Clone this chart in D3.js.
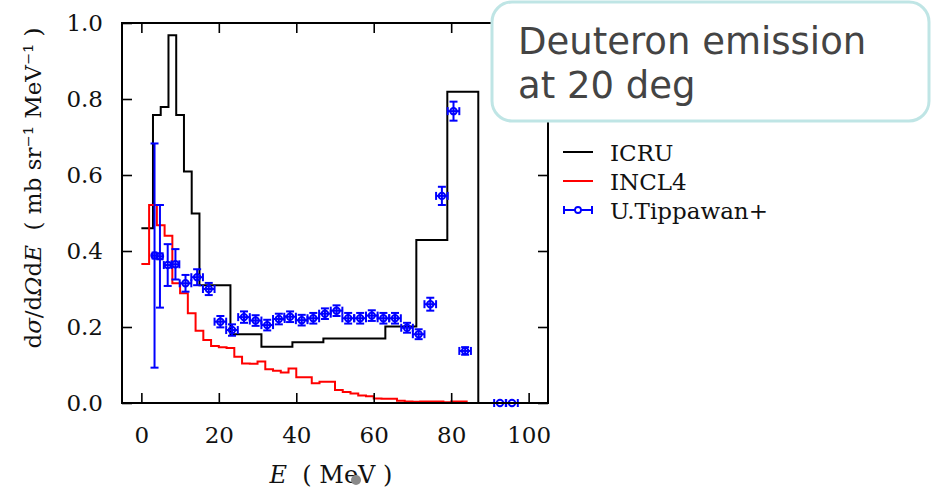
<!DOCTYPE html>
<html>
<head>
<meta charset="utf-8">
<script src="https://cdn.jsdelivr.net/npm/d3@7"></script>
<style>
  html, body { margin: 0; padding: 0; background: #fff; }
  svg { display: block; }
  text { white-space: pre; }
</style>
</head>
<body>
<svg width="932" height="493"></svg>
<script>
// ICRU histogram: bin edges (MeV) and values
var icruEdges = [0, 3, 5, 7, 9, 11, 13, 15, 23, 31, 39, 47, 63, 71, 79, 87];
var icruValues = [0.46, 0.758, 0.779, 0.968, 0.758, 0.609, 0.499, 0.31, 0.181, 0.148, 0.160, 0.170, 0.201, 0.429, 0.819];

// INCL4 histogram, 2 MeV bins from 0 to 84
var inclEdges = d3.range(0, 86, 2);
var inclValues = [0.366, 0.521, 0.468, 0.44, 0.315, 0.289, 0.236, 0.19, 0.166, 0.150,
                  0.147, 0.145, 0.122, 0.104, 0.103, 0.109, 0.089, 0.085, 0.08, 0.091,
                  0.068, 0.068, 0.052, 0.056, 0.056, 0.034, 0.029, 0.025, 0.02, 0.018,
                  0.012, 0.011, 0.011, 0.006, 0.004, 0.003, 0.004, 0.004, 0.004, 0.002,
                  0.004, 0.004];

// U.Tippawan+ measurement
var tipE = [3.4, 4.8, 6.8, 8.8, 11.4, 14.4, 17.4, 20.4, 23.4, 26.5, 29.5, 32.5, 35.5, 38.4,
            41.4, 44.4, 47.4, 50.4, 53.4, 56.5, 59.5, 62.5, 65.5, 68.6, 71.6, 74.6, 77.6,
            80.6, 83.6, 92.6, 95.7];
var tipY = [0.388, 0.386, 0.363, 0.365, 0.315, 0.331, 0.300, 0.214, 0.192, 0.226, 0.217,
            0.205, 0.221, 0.227, 0.218, 0.223, 0.235, 0.243, 0.223, 0.223, 0.230, 0.223,
            0.223, 0.198, 0.181, 0.260, 0.545, 0.768, 0.137, 0.0, 0.0];
var tipYErr = [0.295, 0.135, 0.055, 0.04, 0.022, 0.021, 0.016, 0.015, 0.015, 0.015, 0.014,
               0.014, 0.014, 0.014, 0.014, 0.014, 0.014, 0.014, 0.014, 0.014, 0.014, 0.014,
               0.014, 0.013, 0.013, 0.017, 0.024, 0.025, 0.01, 0, 0];
var tipXErr = [0.5, 0.7, 1.0, 1.0, 1.5, 1.5, 1.5, 1.5, 1.5, 1.5, 1.5, 1.5, 1.5, 1.5, 1.5,
               1.5, 1.5, 1.5, 1.5, 1.5, 1.5, 1.5, 1.5, 1.5, 1.5, 1.5, 1.5, 1.5, 1.5, 1.5, 1.5];

var xTicks = [0, 20, 40, 60, 80, 100];
var yTicks = [0.0, 0.2, 0.4, 0.6, 0.8, 1.0];

var serif = "'DejaVu Serif', serif";
var box = {left: 122, right: 548, top: 23, bottom: 403};

var svg = d3.select("svg");

var xScale = d3.scaleLinear().domain([-5, 105]).range([box.left, box.right]);
var yScale = d3.scaleLinear().domain([0, 1]).range([box.bottom, box.top]);

// histogram -> step path points
function stepPoints(edges, values) {
   var pts = values.map(function(v, i) { return [edges[i], v]; });
   var last = edges[values.length];
   pts.push([last, values[values.length - 1]]);
   pts.push([last, 0]);
   return pts;
}

var stepLine = d3.line()
   .x(function(d) { return xScale(d[0]); })
   .y(function(d) { return yScale(d[1]); })
   .curve(d3.curveStepAfter);

svg.append("path")
   .attr("d", stepLine(stepPoints(icruEdges, icruValues)))
   .attr("fill", "none")
   .attr("stroke", "#000")
   .attr("stroke-width", 2);

svg.append("path")
   .attr("d", stepLine(stepPoints(inclEdges, inclValues)))
   .attr("fill", "none")
   .attr("stroke", "#ff0000")
   .attr("stroke-width", 2);

// error bars
var tip = tipE.map(function(e, i) {
   return {x: e, y: tipY[i], xe: tipXErr[i], ye: tipYErr[i]};
});
var blue = "#0000ff";
var cap = 4;
var eg = svg.append("g").attr("stroke", blue).attr("stroke-width", 2).attr("fill", "none");

tip.forEach(function(d) {
   var cx = xScale(d.x), cy = yScale(d.y);
   var x0 = xScale(d.x - d.xe), x1 = xScale(d.x + d.xe);
   eg.append("line").attr("x1", x0).attr("x2", x1).attr("y1", cy).attr("y2", cy);
   eg.append("line").attr("x1", x0).attr("x2", x0).attr("y1", cy - cap).attr("y2", cy + cap);
   eg.append("line").attr("x1", x1).attr("x2", x1).attr("y1", cy - cap).attr("y2", cy + cap);
   if (d.ye > 0) {
      var y0 = yScale(d.y - d.ye), y1 = yScale(d.y + d.ye);
      eg.append("line").attr("x1", cx).attr("x2", cx).attr("y1", y0).attr("y2", y1);
      eg.append("line").attr("x1", cx - cap).attr("x2", cx + cap).attr("y1", y0).attr("y2", y0);
      eg.append("line").attr("x1", cx - cap).attr("x2", cx + cap).attr("y1", y1).attr("y2", y1);
   }
   eg.append("circle").attr("cx", cx).attr("cy", cy).attr("r", 3.2);
});

// axes, ticks pointing inward
var tickLen = 10;
function styleAxis(g) {
   g.select(".domain").remove();
   g.selectAll(".tick line").attr("stroke", "#000").attr("stroke-width", 1.6);
   g.selectAll("text").attr("font-family", serif).attr("font-size", 23).attr("fill", "#111");
}

svg.append("g")
   .attr("transform", "translate(0," + box.bottom + ")")
   .call(d3.axisBottom(xScale).tickValues(xTicks).tickFormat(d3.format("d"))
      .tickSizeInner(-tickLen).tickSizeOuter(0).tickPadding(24))
   .call(styleAxis);

svg.append("g")
   .attr("transform", "translate(0," + box.top + ")")
   .call(d3.axisTop(xScale).tickValues(xTicks).tickFormat("")
      .tickSizeInner(-tickLen).tickSizeOuter(0))
   .call(styleAxis);

svg.append("g")
   .attr("transform", "translate(" + box.left + ",0)")
   .call(d3.axisLeft(yScale).tickValues(yTicks).tickFormat(d3.format(".1f"))
      .tickSizeInner(-tickLen).tickSizeOuter(0).tickPadding(19))
   .call(styleAxis);

svg.append("g")
   .attr("transform", "translate(" + box.right + ",0)")
   .call(d3.axisRight(yScale).tickValues(yTicks).tickFormat("")
      .tickSizeInner(-tickLen).tickSizeOuter(0))
   .call(styleAxis);

// frame
svg.append("rect")
   .attr("x", box.left).attr("y", box.top)
   .attr("width", box.right - box.left).attr("height", box.bottom - box.top)
   .attr("fill", "none").attr("stroke", "#000").attr("stroke-width", 2);

// axis labels
var xl = svg.append("text")
   .attr("x", 331).attr("y", 483)
   .attr("text-anchor", "middle")
   .attr("font-family", serif).attr("font-size", 24).attr("fill", "#111");
xl.append("tspan").attr("font-style", "italic").text("E");
xl.append("tspan").text("  ( MeV )");

var yl = svg.append("text")
   .attr("transform", "translate(41,188) rotate(-90)")
   .attr("text-anchor", "middle")
   .attr("font-family", serif).attr("font-size", 23).attr("fill", "#111");
yl.append("tspan").text("d");
yl.append("tspan").attr("font-style", "italic").text("σ");
yl.append("tspan").text("/d");
yl.append("tspan").attr("font-style", "italic").text("Ω");
yl.append("tspan").text("d");
yl.append("tspan").attr("font-style", "italic").text("E");
yl.append("tspan").text("  ( mb sr⁻¹ MeV⁻¹ )");

// legend
var legendNames = ["ICRU", "INCL4", "U.Tippawan+"];
var legendColors = ["#000", "#ff0000", blue];
var lg = svg.append("g");
legendNames.forEach(function(name, i) {
   var ly = 152 + i * 29;
   lg.append("line").attr("x1", 563).attr("x2", 593).attr("y1", ly).attr("y2", ly)
      .attr("stroke", legendColors[i]).attr("stroke-width", 2);
   if (i === 2) {
      lg.append("line").attr("x1", 564).attr("x2", 564).attr("y1", ly - 4).attr("y2", ly + 4)
         .attr("stroke", blue).attr("stroke-width", 2);
      lg.append("line").attr("x1", 592).attr("x2", 592).attr("y1", ly - 4).attr("y2", ly + 4)
         .attr("stroke", blue).attr("stroke-width", 2);
      lg.append("circle").attr("cx", 578).attr("cy", ly).attr("r", 3)
         .attr("fill", "#fff").attr("stroke", blue).attr("stroke-width", 1.8);
   }
   lg.append("text").attr("x", 610).attr("y", ly + 9)
      .attr("font-family", serif).attr("font-size", 23).attr("fill", "#111")
      .text(name);
});

// annotation box
svg.append("rect")
   .attr("x", 492).attr("y", 2).attr("width", 437).attr("height", 119)
   .attr("rx", 20).attr("ry", 20)
   .attr("fill", "#fff").attr("stroke", "#bfe5e5").attr("stroke-width", 3);
var ann = svg.append("text")
   .attr("font-family", "'DejaVu Sans', sans-serif").attr("font-size", 37).attr("fill", "#444");
ann.append("tspan").attr("x", 518).attr("y", 54).text("Deuteron emission");
ann.append("tspan").attr("x", 518).attr("y", 98).text("at 20 deg");

// small grey blot over the x label
svg.append("circle").attr("cx", 356).attr("cy", 480).attr("r", 5).attr("fill", "#8a8a8a");
</script>
</body>
</html>
